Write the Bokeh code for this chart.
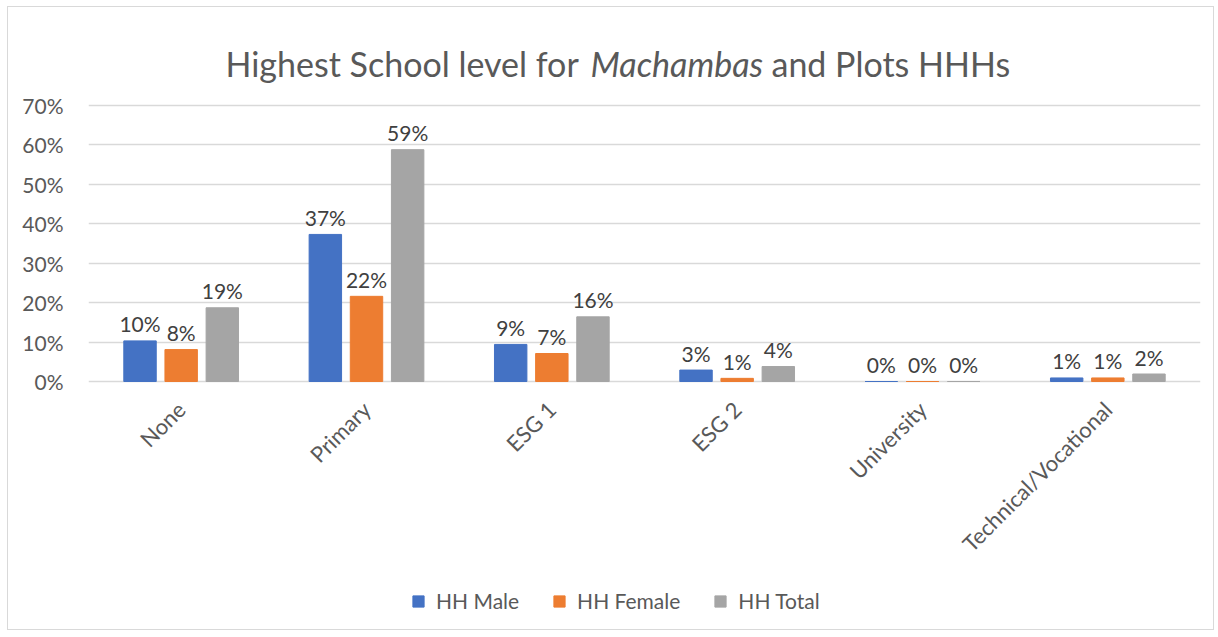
from bokeh.plotting import figure
from bokeh.models import (ColumnDataSource, FactorRange, Range1d, FixedTicker,
                          NumeralTickFormatter, Legend, LegendItem, Label)
from bokeh.transform import dodge
from bokeh.core.properties import value
from bokeh.embed import file_html
from bokeh.resources import INLINE

categories = ["None", "Primary", "ESG 1", "ESG 2", "University", "Technical/Vocational"]
hh_male = [0.103, 0.373, 0.094, 0.029, 0.0, 0.009]
hh_female = [0.081, 0.216, 0.071, 0.008, 0.0, 0.009]
hh_total = [0.187, 0.588, 0.164, 0.038, 0.0, 0.019]
y_ticks = [0.0, 0.1, 0.2, 0.3, 0.4, 0.5, 0.6, 0.7]
series_names = ["HH Male", "HH Female", "HH Total"]
colors = ["#4472C4", "#ED7D31", "#A5A5A5"]

FONT = "Lato"

def fmt(v):
    return f"{v*100:.0f}%"

source = ColumnDataSource(dict(
    cat=categories,
    male=hh_male, female=hh_female, total=hh_total,
    male_lbl=[fmt(v) for v in hh_male],
    female_lbl=[fmt(v) for v in hh_female],
    total_lbl=[fmt(v) for v in hh_total],
))

# Layout in pixels: the frame spans the whole chart height so that title,
# rotated category labels and legend all live inside it.
frame_top_px, frame_bottom_px = 12, 625
zero_px, top_tick_px = 381, 105
px_per_unit = (zero_px - top_tick_px) / y_ticks[-1]
y_hi = (zero_px - frame_top_px) / px_per_unit
y_lo = -(frame_bottom_px - zero_px) / px_per_unit

p = figure(width=1207, height=624, x_range=FactorRange(factors=categories),
           y_range=Range1d(y_lo, y_hi), output_backend="svg", toolbar_location=None,
           min_border_left=80, min_border_right=15, min_border_top=5,
           min_border_bottom=6)
p.styles = {"border": "1px solid #d9d9d9", "margin": "6px 0 0 7px"}
p.outline_line_color = None
p.background_fill_color = "white"
p.border_fill_color = "white"

p.xgrid.grid_line_color = None
p.ygrid.grid_line_color = "#d9d9d9"
p.ygrid.grid_line_width = 1.5
p.ygrid.ticker = FixedTicker(ticks=y_ticks)

p.yaxis.ticker = FixedTicker(ticks=y_ticks)
p.yaxis.formatter = NumeralTickFormatter(format="0%")
p.yaxis.axis_line_color = None
p.yaxis.major_tick_line_color = None
p.yaxis.minor_tick_line_color = None
p.yaxis.major_label_standoff = 19
p.yaxis.major_label_text_font = FONT
p.yaxis.major_label_text_font_size = "21px"
p.yaxis.major_label_text_color = "#595959"

p.xaxis.fixed_location = 0
p.xaxis.axis_line_color = None
p.xaxis.major_tick_line_color = None
p.xaxis.minor_tick_line_color = None
p.xaxis.major_label_orientation = 0.785398
p.xaxis.major_label_standoff = 18
p.xaxis.major_label_text_font = FONT
p.xaxis.major_label_text_font_size = "22px"
p.xaxis.major_label_text_color = "#595959"

offsets = [-0.222, 0.0, 0.222]
fields = ["male", "female", "total"]
items = []
for off, f, c, name in zip(offsets, fields, colors, series_names):
    r = p.vbar(x=dodge("cat", off, range=p.x_range), top=f, width=0.175,
               source=source, fill_color=c, line_color=c)
    items.append(LegendItem(label=name, renderers=[r]))
    p.text(x=dodge("cat", off, range=p.x_range), y=f, text=f + "_lbl",
           source=source, text_align="center", text_baseline="alphabetic",
           y_offset=-17, text_font=value(FONT), text_font_size="21px",
           text_color="#404040")

legend = Legend(items=items, orientation="horizontal", location=(323, 12),
                padding=0, margin=0, spacing=33, label_standoff=11,
                glyph_width=14, glyph_height=14, border_line_color=None,
                background_fill_alpha=0, label_text_font=FONT,
                label_text_font_size="21px", label_text_color="#595959")
p.add_layout(legend)

title_parts = [("Highest School level for", "normal", 137),
               ("Machambas", "italic", 502),
               ("and Plots HHHs", "normal", 683)]
for txt, style, xs in title_parts:
    p.add_layout(Label(x=xs, y=frame_bottom_px - 63, x_units="screen", y_units="screen",
                       text=txt, text_font=FONT, text_font_style=style,
                       text_font_size="34px", text_color="#595959",
                       text_baseline="alphabetic", text_align="left"))

open("out.html", "w").write(file_html(p, INLINE))
